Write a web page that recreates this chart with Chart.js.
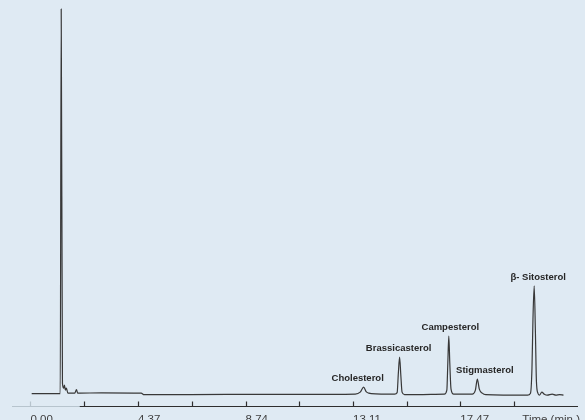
<!DOCTYPE html>
<html>
<head>
<meta charset="utf-8">
<title>Sterol GC chromatogram</title>
<script src="https://cdn.jsdelivr.net/npm/chart.js@4/dist/chart.umd.min.js"></script>
<style>
  html, body { margin: 0; padding: 0; width: 585px; height: 420px; overflow: hidden; background: #dfeaf3; }
  canvas { display: block; }
</style>
</head>
<body>
<canvas id="gc" width="585" height="434"></canvas>
<script>
// Retention time (min) and detector response (baseline = 0) along the trace
const retentionTime = [
  0.05, 1.21, 1.25, 1.30, 1.35, 1.38, 1.42, 1.46, 1.52, 1.80, 1.87, 1.92,
  2.90, 4.50, 4.62, 5.00, 8.00, 11.00,
  13.20, 13.40, 13.54, 13.64, 13.75, 13.85,
  14.80, 14.90, 14.95, 15.00, 15.05, 15.10, 15.20,
  16.82, 16.92, 16.96, 17.00, 17.04, 17.09, 17.20,
  17.95, 18.08, 18.16, 18.24, 18.36, 18.50,
  20.20, 20.32, 20.38, 20.42, 20.47, 20.52, 20.56, 20.62, 20.68, 20.78, 20.88, 21.00, 21.20, 21.35, 21.50, 21.66
];
const detectorSignal = [
  -0.5, -0.5, 383, 10, 5, 8, 3, 5, 0, 0, 3.5, 0,
  0.3, 0, -1.5, -1.5, -1.3, -1.3,
  -1, 1, 6, 1.5, 0, -0.5,
  -1, 0.5, 20, 36, 18, 1, -1.5,
  -1, 3, 30, 57, 30, 4, -1,
  -1, 3, 14, 4, 0, -1.5,
  -2, 0, 25, 74, 107, 60, 12, 0, -2, 1, -1, -2, -1, -2, -1.5, -2
];

// Identified sterols and the retention time of each apex
const peakNames = ['Cholesterol', 'Brassicasterol', 'Campesterol', 'Stigmasterol', 'β- Sitosterol'];
const peakTimes = [13.54, 15.00, 17.00, 18.16, 20.47];

// Time axis: a mark every 2.185 min, a number on every other mark
const tickTimes = [0, 2.185, 4.37, 6.555, 8.74, 10.925, 13.11, 15.295, 17.47, 19.655];
const labelTimes = [0, 4.37, 8.74, 13.11, 17.47];
const tickLabels = ['0.00', '4.37', '8.74', '13.11', '17.47'];
const axisCaption = 'Time (min.)';

// Label placement (horizontal nudge in px) and drawing styles
const peakLabelShift = [-6, -1, 1.5, 7.5, 4];
const INK = '#2e2e2e';
const PALE = '#b7c4cd';
const AXIS_FONT = '11.5px "Liberation Sans", Arial, sans-serif';
const PEAK_FONT = 'bold 9.5px "Liberation Sans", Arial, sans-serif';

const points = retentionTime.map((t, i) => ({ x: t, y: detectorSignal[i] }));

// Axis line with upward marks, axis caption and peak names
const chromatogramDecor = {
  id: 'chromatogramDecor',
  afterDraw(chart) {
    const { ctx, chartArea, scales: { x, y } } = chart;
    const axisY = Math.round(chartArea.bottom) + 0.5;
    const split = x.getPixelForValue(2.0);
    ctx.save();
    ctx.lineWidth = 1.2;
    ctx.strokeStyle = PALE;
    ctx.beginPath(); ctx.moveTo(chartArea.left, axisY); ctx.lineTo(split, axisY); ctx.stroke();
    ctx.strokeStyle = INK;
    ctx.beginPath(); ctx.moveTo(split, axisY); ctx.lineTo(chartArea.right, axisY); ctx.stroke();

    tickTimes.forEach(t => {
      const px = Math.round(x.getPixelForValue(t)) + 0.5;
      ctx.strokeStyle = t < 2 ? PALE : INK;
      ctx.beginPath(); ctx.moveTo(px, axisY); ctx.lineTo(px, axisY - 5); ctx.stroke();
    });

    // caption sits in the row of tick numbers, flush right
    const xo = x.options.ticks;
    ctx.font = AXIS_FONT;
    ctx.fillStyle = xo.color;
    ctx.textAlign = 'right';
    ctx.textBaseline = 'middle';
    ctx.fillText(axisCaption, chartArea.right + 2, x.top + xo.padding + 11.5 * 1.2 / 2);

    ctx.font = PEAK_FONT;
    ctx.fillStyle = '#262626';
    ctx.textAlign = 'center';
    ctx.textBaseline = 'middle';
    peakNames.forEach((name, i) => {
      const k = retentionTime.indexOf(peakTimes[i]);
      const px = x.getPixelForValue(peakTimes[i]) + peakLabelShift[i];
      const py = y.getPixelForValue(detectorSignal[k]) - 8.5;
      ctx.fillText(name, px, py);
    });
    ctx.restore();
  }
};

new Chart(document.getElementById('gc'), {
  type: 'line',
  data: {
    datasets: [{
      data: points,
      borderColor: '#383838',
      borderWidth: 1.2,
      pointRadius: 0,
      cubicInterpolationMode: 'monotone',
      fill: false
    }]
  },
  options: {
    responsive: false,
    animation: false,
    layout: { padding: { left: 12, right: 7, top: 0, bottom: 0 } },
    plugins: { legend: { display: false }, tooltip: { enabled: false } },
    scales: {
      x: {
        type: 'linear',
        min: -0.75,
        max: 22.25,
        grid: { display: false, drawTicks: false },
        border: { display: false },
        afterBuildTicks: scale => { scale.ticks = labelTimes.map(v => ({ value: v })); },
        ticks: {
          align: 'start',
          padding: 7,
          autoSkip: false,
          maxRotation: 0,
          color: '#3f3f3f',
          font: { family: '"Liberation Sans", Arial, sans-serif', size: 11.5 },
          callback: (value, index) => tickLabels[index]
        }
      },
      y: {
        display: false,
        min: -13,
        max: 392
      }
    }
  },
  plugins: [chromatogramDecor]
});
</script>
</body>
</html>
